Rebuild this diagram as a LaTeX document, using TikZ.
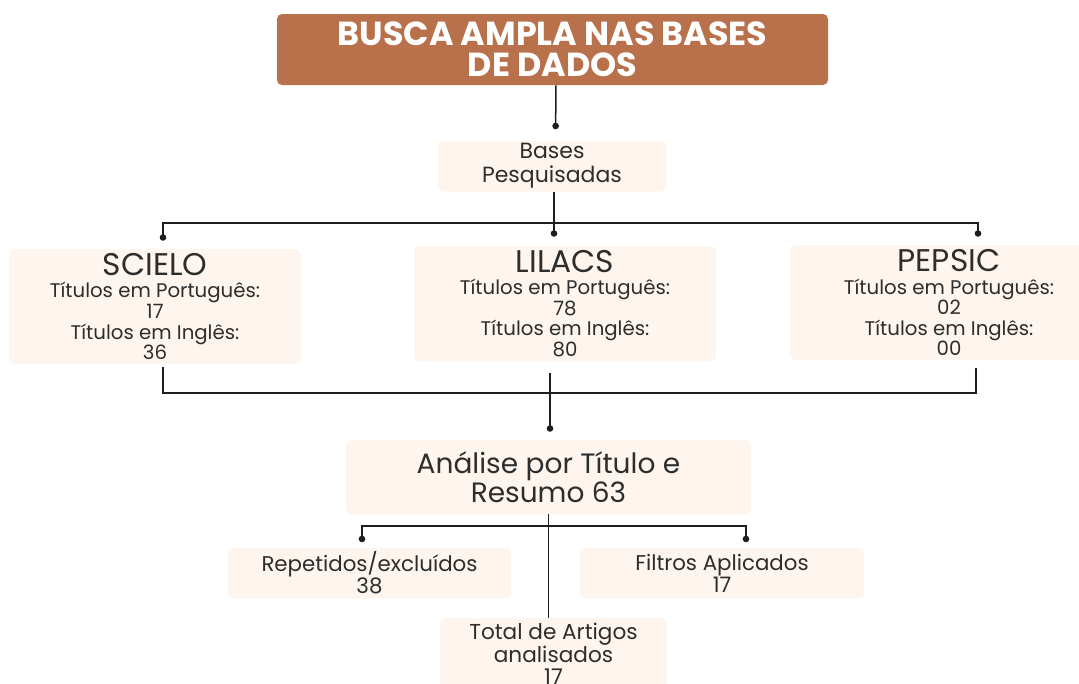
\documentclass[tikz,border=0pt]{standalone}
\usepackage{fontspec}
\setmainfont{Poppins}
\usetikzlibrary{arrows.meta,calc}
\definecolor{titlebg}{RGB}{185,113,76}
\definecolor{cream}{RGB}{254,246,238}
\definecolor{ink}{RGB}{45,45,45}
\definecolor{wire}{RGB}{30,30,30}
\tikzset{
  titlebox/.style={fill=titlebg, rounded corners=3.75pt, text=white, align=center,
    font=\fontsize{25}{23.5}\selectfont\bfseries, inner sep=0pt},
  creambox/.style={fill=cream, rounded corners=3.75pt, text=ink, align=center, inner sep=0pt},
  dbbox/.style={creambox, minimum height=86.25pt, font=\fontsize{14.8}{15.4}\selectfont},
  wireline/.style={draw=wire, line width=1.125pt},
  dotline/.style={wireline, -{Circle[length=4.9pt]}},
}
\newcommand{\dbname}[1]{{\fontsize{23.5}{24}\selectfont #1}}
\begin{document}
\begin{tikzpicture}[x=0.75pt,y=-0.75pt]
\useasboundingbox (0,0) rectangle (1079,683);
\node[titlebox, minimum width=413.25pt, minimum height=53.25pt] (title) at (552.5,49.5)
  {BUSCA AMPLA NAS BASES\\DE DADOS};
\node[creambox, minimum width=171pt, minimum height=38.25pt,
  font=\fontsize{16.5}{18}\selectfont] (bases) at (552,166) {Bases\\Pesquisadas};
\node[dbbox, minimum width=219pt] (scielo) at (155,306.5)
  {\dbname{SCIELO}\\[1.5pt]Títulos em Português:\\17\\Títulos em Inglês:\\36};
\node[dbbox, minimum width=226.5pt] (lilacs) at (565,303.5)
  {\dbname{LILACS}\\[1.5pt]Títulos em Português:\\78\\Títulos em Inglês:\\80};
\node[dbbox, minimum width=238.5pt] (pepsic) at (949,302.5)
  {\dbname{PEPSIC}\\[1.5pt]Títulos em Português:\\02\\Títulos em Inglês:\\00};
\node[creambox, minimum width=303.75pt, minimum height=55.5pt,
  font=\fontsize{21}{20}\selectfont] (analise) at (548.5,477)
  {Análise por Título e\\Resumo 63};
\node[creambox, minimum width=212.25pt, minimum height=38.25pt,
  font=\fontsize{16}{16.5}\selectfont] (rep) at (369.5,573) {Repetidos/excluídos\\38};
\node[creambox, minimum width=213pt, minimum height=38.25pt,
  font=\fontsize{16}{16.5}\selectfont] (filt) at (722,573) {Filtros Aplicados\\17};
\node[creambox, minimum width=170.25pt, minimum height=54pt,
  font=\fontsize{16.2}{17}\selectfont] (total) at (553.5,654) {Total de Artigos\\analisados\\17};
% connectors
\draw[dotline, shorten >=8.25pt] ([xshift=2.625pt]title.south) -- ([xshift=2.625pt]bases.north);
\coordinate (busA) at (554,223);
\draw[wireline] ([xshift=1.5pt]bases.south) -- (busA);
\draw[dotline, shorten >=6pt] (busA) -| ([xshift=6pt]scielo.north);
\draw[dotline, shorten >=6pt] (busA) -| ([xshift=21.75pt]pepsic.north);
\draw[dotline, shorten >=6.75pt] (busA) -- ([xshift=-8.25pt]lilacs.north);
\coordinate (busB) at (550,393);
\draw[wireline] ([xshift=6pt,yshift=-2.25pt]scielo.south) |- (busB)
  -| ([xshift=20.25pt,yshift=-6pt]pepsic.south);
\draw[dotline, shorten >=6pt] ([xshift=-11.25pt,yshift=-9pt]lilacs.south) -- ([xshift=1.125pt]analise.north);
\coordinate (busC) at (548,526);
\draw[wireline] (analise.south) -- (total.north -| analise.south);
\draw[dotline, shorten >=3.75pt] (busC) -| ([xshift=-5.625pt]rep.north);
\draw[dotline, shorten >=3.75pt] (busC) -| ([xshift=18pt]filt.north);
\end{tikzpicture}
\end{document}
